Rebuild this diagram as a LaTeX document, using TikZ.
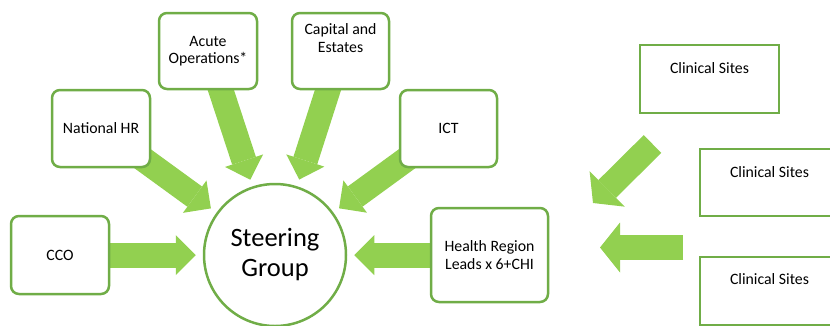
\documentclass[tikz,border=0pt]{standalone}
\usepackage{fontspec}
\setmainfont{Carlito}
\usetikzlibrary{arrows.meta,backgrounds}
\definecolor{flowgreen}{HTML}{92D050}
\definecolor{edgegreen}{HTML}{70AD47}
\begin{document}
\begin{tikzpicture}[x=1pt,y=-1pt,
  unitbox/.style={draw=edgegreen, line width=2.5pt, fill=white, rounded corners=8pt,
    inner sep=0pt, align=center, font=\fontsize{15.8}{17.5}\selectfont},
  sitebox/.style={draw=edgegreen, line width=2.5pt, fill=white, inner sep=0pt},
  boxtext/.style={font=\fontsize{15.8}{17.5}\selectfont, align=center, inner sep=0pt},
  hub/.style={circle, draw=edgegreen, line width=2.5pt, fill=white, minimum size=142pt,
    inner sep=0pt, align=center, font=\fontsize{26.5}{30}\selectfont},
  feed/.style={draw=flowgreen, line width=25pt,
    -{Triangle[length=20pt,width=40pt,line width=0pt]}, shorten >=7pt},
  sitefeed/.style={draw=flowgreen, line width=25pt,
    -{Triangle[length=20pt,width=50pt,line width=0pt]}}]

\useasboundingbox (0,0) rectangle (830,325);

% central steering group
\node[hub] (sg) at (275,255) {Steering\\Group};

% contributing units
\node[unitbox, minimum width=98pt, minimum height=78pt] (cco) at (60,255) {CCO};
\node[unitbox, minimum width=98pt, minimum height=77pt] (hr) at (101,128.5) {National HR};
\node[unitbox, minimum width=98pt, minimum height=76pt] (acute) at (208,51) {Acute\\Operations*};
\node[unitbox, minimum width=97pt, minimum height=76pt] (capital) at (340.5,51) {};
\node[boxtext] (capitaltext) at (340.5,38) {Capital and\\Estates};
\node[unitbox, minimum width=97pt, minimum height=77pt] (ict) at (448.5,128.5) {ICT};
\node[unitbox, minimum width=117pt, minimum height=94pt] (health) at (489.5,255) {Health Region\\Leads x 6+CHI};

% clinical sites
\node[sitebox, minimum width=139pt, minimum height=68pt] (cs1) at (709.5,79) {};
\node[boxtext] (cs1text) at (709.5,68) {Clinical Sites};
\node[sitebox, minimum width=139pt, minimum height=67pt] (cs2) at (769.5,182.5) {};
\node[boxtext] (cs2text) at (769.5,172) {Clinical Sites};
\node[sitebox, minimum width=139pt, minimum height=68pt] (cs3) at (769.5,291) {};
\node[boxtext] (cs3text) at (769.5,279) {Clinical Sites};

% free ends of the clinical site arrows
\coordinate (dtail) at (652.5,144);
\coordinate (dtip) at (593,203);
\coordinate (htail) at (683,247.5);
\coordinate (htip) at (600,247.5);

\begin{pgfonlayer}{background}
  \draw[feed] (cco.center) -- (sg);
  \draw[feed] (hr.center) -- (sg);
  \draw[feed] (acute.center) -- (sg);
  \draw[feed] (capital.center) -- (sg);
  \draw[feed] (ict.center) -- (sg);
  \draw[feed] (health.center) -- (sg);
  \draw[sitefeed] (dtail) -- (dtip);
  \draw[sitefeed] (htail) -- (htip);
\end{pgfonlayer}
\end{tikzpicture}
\end{document}
